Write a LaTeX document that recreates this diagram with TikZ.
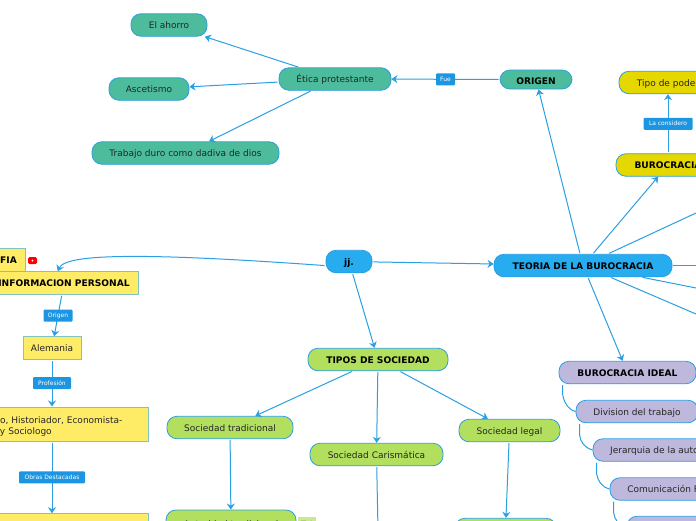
\documentclass[tikz,border=0pt]{standalone}
\usepackage{fontspec}
\setmainfont{DejaVu Sans}
\usetikzlibrary{arrows.meta}
\definecolor{linkblue}{HTML}{2A9FE3}
\definecolor{tagblue}{HTML}{1C96E2}
\definecolor{tealfill}{HTML}{4CBC9C}
\definecolor{bluefill}{HTML}{28ACF0}
\definecolor{greenfill}{HTML}{B2E05E}
\definecolor{yellowfill}{HTML}{FFEC66}
\definecolor{yellowline}{HTML}{7FC4BE}
\definecolor{purplefill}{HTML}{BDB8DC}
\definecolor{goldfill}{HTML}{E5D800}
\tikzset{
    topic/.style={draw=linkblue,line width=0.8pt,rounded corners=10pt,font=\fontsize{9}{11}\selectfont,text=black!85,inner sep=0pt,minimum height=22.5pt,text height=7pt,text depth=0pt},
    title/.style={font=\fontsize{9.1}{11}\selectfont\bfseries,text=black},
    teal/.style={topic,fill=tealfill},
    sky/.style={topic,fill=bluefill},
    lime/.style={topic,fill=greenfill},
    lilac/.style={topic,fill=purplefill},
    gold/.style={topic,fill=goldfill},
    note/.style={topic,fill=yellowfill,draw=yellowline,line width=1pt,rounded corners=0pt},
    tag/.style={fill=tagblue,text=white,font=\fontsize{6}{7}\selectfont,rounded corners=1pt,inner sep=0pt,minimum height=12pt},
    link/.style={draw=linkblue,line width=1pt,shorten <=1pt,-{Stealth[length=6pt,width=8pt]}},
    plain/.style={draw=linkblue,line width=1pt,shorten <=1pt},
}
\begin{document}
\begin{tikzpicture}[x=1pt,y=-1pt]
    \useasboundingbox (0,0) rectangle (696,520);
    \clip (0,0) rectangle (696,520);

    % centre
    \node[sky,title,minimum width=178pt] (teoria) at (583,265.5) {TEORIA DE LA BUROCRACIA};
    \node[sky,title,minimum width=46pt] (jj) at (349,261.5) {jj.};

    % origen
    \node[teal,title,minimum width=72pt,minimum height=19pt] (origen) at (536,79.5) {\raisebox{-1pt}{ORIGEN}};
    \node[teal,minimum width=112pt] (etica) at (335,79) {Ética protestante};
    \node[teal,minimum width=76pt] (ahorro) at (169,25) {El ahorro};
    \node[teal,minimum width=80pt] (ascetismo) at (149,89) {Ascetismo};
    \node[teal,minimum width=187pt] (trabajo) at (185.5,153) {Trabajo duro como dadiva de dios};

    % burocracia
    \node[gold,title,minimum width=104pt] (burocracia) at (668,165) {BUROCRACIA};
    \node[gold,minimum width=98pt] (poder) at (668,82.5) {Tipo de poder};

    % sociedad
    \node[lime,title,minimum width=140pt] (tipos) at (378,359.5) {TIPOS DE SOCIEDAD};
    \node[lime,minimum width=126pt] (tradicional) at (230,427.5) {Sociedad tradicional};
    \node[lime,minimum width=133pt] (carismatica) at (376.5,454.5) {Sociedad Carismática};
    \node[lime,minimum width=101pt] (legal) at (509.5,430.5) {Sociedad legal};
    \node[lime,minimum width=130pt,minimum height=28pt] (autoridad) at (231,524) {Autoridad tradicional};
    \node[lime,minimum width=101pt] (racional) at (505.5,529.5) {};
    \coordinate (carisma) at (378,530);

    % ideal
    \node[lilac,title,minimum width=137pt] (ideal) at (627.5,372.5) {BUROCRACIA IDEAL};
    \node[lilac,minimum width=122pt] (division) at (637,411.5) {Division del trabajo};
    \node[lilac,minimum width=146pt] (jerarquia) at (666,450) {Jerarquia de la autoridad};
    \node[lilac,minimum width=132pt] (comunicacion) at (676,489) {Comunicación Formal};
    \node[lilac,minimum width=160pt] (quinto) at (707,527.5) {};

    % biografia
    \node[note,title,minimum width=33pt] (fia) at (8.5,260) {FIA};
    \node[note,title,minimum width=148pt] (info) at (64,283) {INFORMACION PERSONAL};
    \node[note,minimum width=58pt] (alemania) at (52,348) {Alemania};
    \node[note,minimum width=192pt,minimum height=34pt,text width=176pt,text depth=8pt,align=left] (historia) at (52,424) {\hspace*{36pt}o, Historiador, Economista-\\\hspace*{36pt}y Sociologo};
    \node[note,minimum width=192pt] (obras) at (52,525) {};

    % video
    \node[fill=red,rounded corners=1.5pt,minimum width=9pt,minimum height=7pt,inner sep=0pt] (video) at (32.5,260.5) {};
    \node[fill=white,circle,minimum size=2pt,inner sep=0pt] (play) at (video) {};

    % contador
    \node[fill=greenfill!70,minimum width=18pt,minimum height=14pt,inner sep=0pt,font=\fontsize{7}{8}\selectfont] (cuenta) at (307,524) {☐ 1};

    % salidas
    \coordinate (sale1) at (696,213);
    \coordinate (sale2) at (696,265.5);
    \coordinate (sale3) at (696,288);
    \coordinate (sale4) at (696,314);

    \draw[link] (origen) -- (etica) node[tag,midway,minimum width=19pt] (fue) {Fue};
    \draw[link] (etica) -- (ahorro);
    \draw[link] (etica) -- (ascetismo);
    \draw[link] (etica) -- (trabajo);
    \draw[link] (teoria) -- (origen);
    \draw[link] (teoria) -- (burocracia);
    \draw[link] (burocracia) -- (poder) node[tag,midway,minimum width=49pt] (considero) {La considero};
    \draw[link] (teoria) -- (ideal);
    \draw[plain] (teoria) -- (sale1);
    \draw[plain] (teoria) -- (sale2);
    \draw[plain] (teoria) -- (sale3);
    \draw[plain] (teoria) -- (sale4);
    \draw[link] (jj) -- (teoria);
    \draw[link] (jj) -- (tipos);
    \draw[link] (jj.190) .. controls (150,253) and (66,253) .. (info.118);
    \draw[link] (tipos) -- (tradicional);
    \draw[link] (tipos) -- (carismatica);
    \draw[link] (tipos) -- (legal);
    \draw[link] (tradicional) -- (autoridad);
    \draw[plain] (carismatica) -- (carisma);
    \draw[link] (legal) -- (racional);
    \draw[link] (info) -- (alemania) node[tag,midway,minimum width=29pt] (origentag) {Origen};
    \draw[link] (alemania) -- (historia) node[tag,midway,minimum width=38pt] (profesion) {Profesión};
    \draw[link] (historia) -- (obras) node[tag,midway,minimum width=66pt] (destacadas) {Obras Destacadas};

    % ramas
    \draw[plain] (ideal.south west) ++(4,0) -- ++(0,10) .. controls +(1,7) and +(-8,-2) .. (division.west);
    \draw[plain] (division.south west) ++(4,0) -- ++(0,12) .. controls +(1,7) and +(-8,-2) .. (jerarquia.west);
    \draw[plain] (jerarquia.south west) ++(4,0) -- ++(0,12) .. controls +(1,7) and +(-8,-2) .. (comunicacion.west);
    \draw[plain] (comunicacion.south west) ++(4,0) -- ++(0,12) .. controls +(1,7) and +(-8,-2) .. (quinto.west);
\end{tikzpicture}
\end{document}
